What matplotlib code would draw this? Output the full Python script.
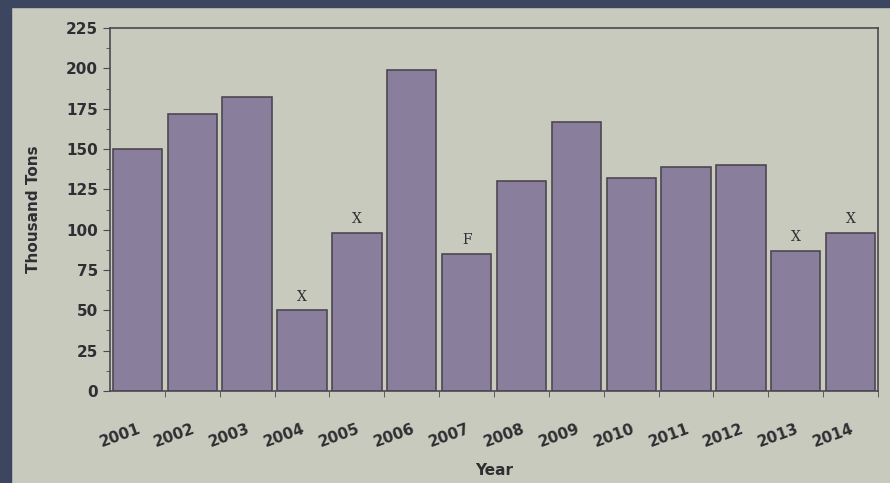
import matplotlib.pyplot as plt
import numpy as np

years = ['2001', '2002', '2003', '2004', '2005', '2006', '2007',
         '2008', '2009', '2010', '2011', '2012', '2013', '2014']
tons = [150, 172, 182, 50, 98, 199, 85, 130, 167, 132, 139, 140, 87, 98]
flags = ['', '', '', 'X', 'X', '', 'F', '', '', '', '', '', 'X', 'X']

bg = '#c8cabd'
bar_color = '#8a7e9d'
edge_color = '#4e4652'
text_color = '#2f2f33'

fig = plt.figure(figsize=(8.9, 4.83), dpi=100, facecolor=bg)

# dark frame of the photo (top and left edges)
fig.patches.append(plt.Rectangle((0, 0.985), 1, 0.015, transform=fig.transFigure,
                                 color='#3d4660', zorder=0))
fig.patches.append(plt.Rectangle((0, 0), 0.012, 1, transform=fig.transFigure,
                                 color='#3d4660', zorder=0))

ax = fig.add_axes([0.1236, 0.1905, 0.863, 0.7515])
ax.set_facecolor(bg)

x = np.arange(len(years))
ax.bar(x, tons, width=0.9, color=bar_color, edgecolor=edge_color, linewidth=1.2, zorder=2)

for xi, v, f in zip(x, tons, flags):
    if f:
        ax.text(xi, v + 4, f, ha='center', va='bottom', fontsize=10,
                family='DejaVu Serif', color=text_color)

ax.set_xlim(-0.5, len(years) - 0.5)
ax.set_ylim(0, 225)
ax.set_yticks(np.arange(0, 226, 25))
ax.set_yticks(np.arange(12.5, 225, 25), minor=True)
ax.tick_params(axis='y', which='major', direction='out', length=5, color=edge_color,
               labelsize=11, labelcolor=text_color)
ax.tick_params(axis='y', which='minor', direction='out', length=3, color=edge_color)
for lbl in ax.get_yticklabels():
    lbl.set_fontweight('bold')

# category ticks sit between the bars
ax.set_xticks(x + 0.5, minor=True)
ax.set_xticks(x)
ax.set_xticklabels(years, rotation=20, ha='right', rotation_mode='anchor',
                   fontsize=11, fontweight='bold', color=text_color)
ax.tick_params(axis='x', which='major', length=0, pad=22)
ax.tick_params(axis='x', which='minor', direction='out', length=4, color=edge_color)

for s in ax.spines.values():
    s.set_color(edge_color)
    s.set_linewidth(1.2)

ax.set_ylabel('Thousand Tons', fontsize=11, fontweight='bold', color=text_color, labelpad=18)
ax.set_xlabel('Year', fontsize=11, fontweight='bold', color=text_color, labelpad=9)

fig.savefig('out.png', dpi=100, facecolor=bg)
